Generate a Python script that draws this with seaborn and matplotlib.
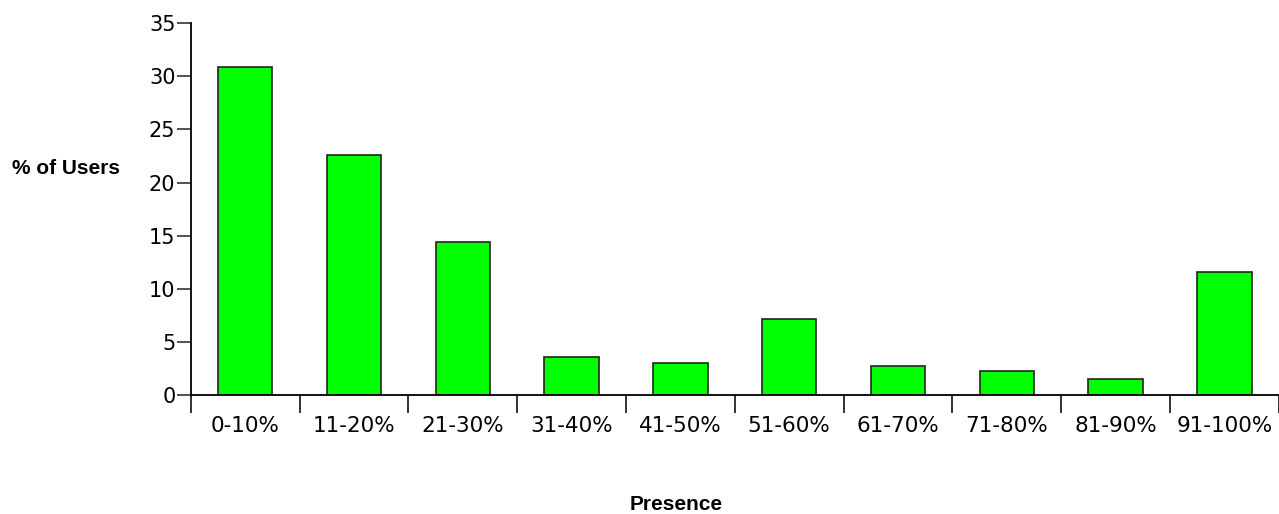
import seaborn as sns
import matplotlib.pyplot as plt
import numpy as np
import pandas as pd

categories = ['0-10%', '11-20%', '21-30%', '31-40%', '41-50%',
              '51-60%', '61-70%', '71-80%', '81-90%', '91-100%']
users_pct = [30.9, 22.6, 14.4, 3.55, 3.05, 7.15, 2.75, 2.3, 1.5, 11.6]
y_ticks = [0, 5, 10, 15, 20, 25, 30, 35]

df = pd.DataFrame({'Presence': categories, 'users': users_pct})

sns.set_style('ticks')
plt.rcParams['font.family'] = ['DejaVu Sans']
plt.rcParams['text.color'] = 'black'
plt.rcParams['xtick.labelcolor'] = 'black'
plt.rcParams['ytick.labelcolor'] = 'black'

fig = plt.figure(figsize=(12.79, 5.14), dpi=100)
ax = fig.add_axes([0.1491, 0.2315, 0.8507, 0.7232])

sns.barplot(data=df, x='Presence', y='users', color='#00ff00', saturation=1,
            edgecolor='#222222', linewidth=1.2, width=0.5, ax=ax)

ax.set_xlim(-0.5, len(categories) - 0.5)
ax.set_ylim(0, 35)
ax.set_yticks(y_ticks)
sns.despine(ax=ax)
for s in ['left', 'bottom']:
    ax.spines[s].set_color('black')
    ax.spines[s].set_linewidth(1.3)

# category boundaries as tick marks, labels centred
ax.set_xticks(np.arange(len(categories) + 1) - 0.5, minor=True)
ax.tick_params(axis='x', which='minor', length=13, width=1.3, color='#222222', direction='out')
ax.tick_params(axis='x', which='major', length=0, pad=15, labelsize=15.5, labelcolor='black')
ax.tick_params(axis='y', which='major', length=10, width=1.3, color='#444444', pad=1,
               labelsize=15, labelcolor='black')

ax.set_xlabel('Presence', fontsize=15, fontweight='bold', family='Liberation Sans', color='black')
ax.xaxis.set_label_coords(0.446, -0.27)
ax.set_ylabel('% of Users', fontsize=15, fontweight='bold', family='Liberation Sans',
              rotation=0, ha='center', va='center', color='black')
ax.yaxis.set_label_coords(-0.1146, 0.61)

fig.savefig('out.png', dpi=100)
